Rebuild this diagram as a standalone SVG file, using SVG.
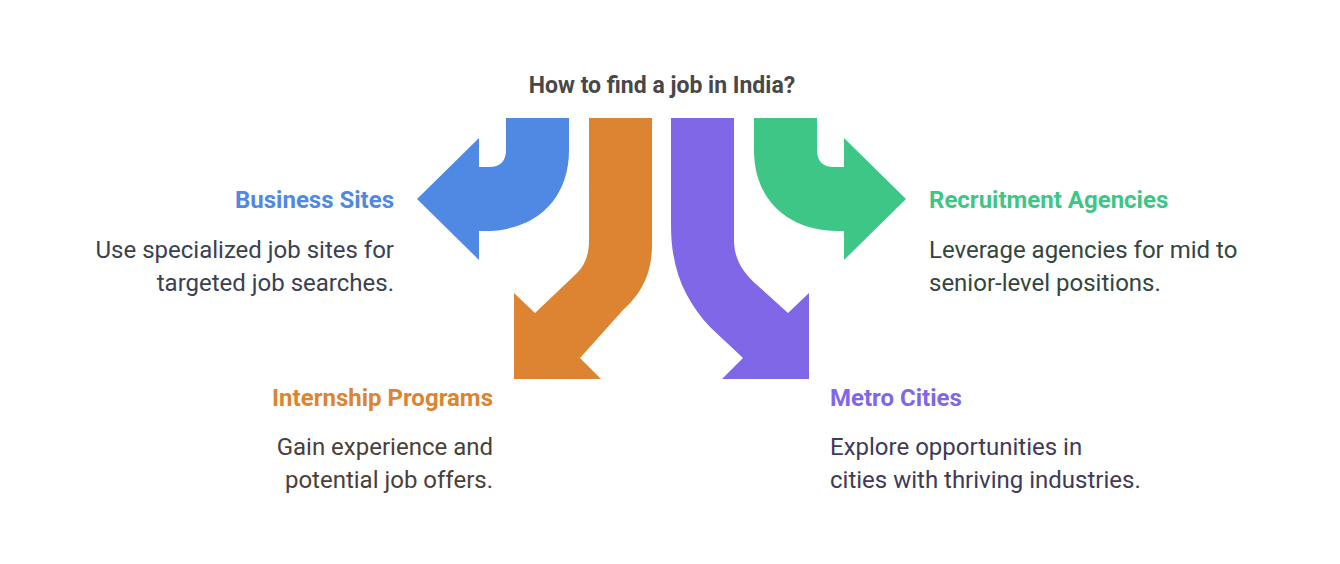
<svg xmlns="http://www.w3.org/2000/svg" width="1340" height="564" viewBox="0 0 1340 564">
<style>
text{font-family:Roboto,"Liberation Sans",sans-serif}
.t{font-size:23px;font-weight:700;fill:#484848}
.h{font-size:24px;font-weight:700}
.b{font-size:24px}
</style>
<rect width="1340" height="564" fill="#fff"/>
<text class="t" x="662" y="93" text-anchor="middle">How to find a job in India?</text>
<g id="connectors">
<path fill="#4F89E4" d="M506,118 L569,118 L569,150 C569,200 535,231 485,231 L479,231 L479,260 L417,199 L479,138 L479,167 L489,167 Q506,167 506,150 Z"/>
<path fill="#3EC686" d="M817,118 L754,118 L754,150 C754,200 788,231 838,231 L844,231 L844,260 L906,199 L844,138 L844,167 L834,167 Q817,167 817,150 Z"/>
<path fill="#DC8431" d="M589,118 L652,118 L652,245 C652,275 640,295 623,310 L580,358 L601,379 L514,379 L514,293 L535,313 L577,273 C585,265 589,255 589,240 Z"/>
<path fill="#7F67E8" d="M671,118 L734,118 L734,240 C734,258 742,272 757,285 L788,313 L809,293 L809,379 L722,379 L743,358 L710,327 C685,300 671,270 671,225 Z"/>
</g>
<g id="business"><text class="h" x="394" y="208" text-anchor="end" fill="#4F89E4">Business Sites</text>
<text class="b" text-anchor="end" fill="#3a4150"><tspan x="394" y="258">Use specialized job sites for</tspan><tspan x="394" y="291">targeted job searches.</tspan></text></g>
<g id="internship"><text class="h" x="493" y="406" text-anchor="end" fill="#DC8431">Internship Programs</text>
<text class="b" text-anchor="end" fill="#4a4038"><tspan x="493" y="455">Gain experience and</tspan><tspan x="493" y="488">potential job offers.</tspan></text></g>
<g id="recruitment"><text class="h" x="929" y="208" fill="#3EC686">Recruitment Agencies</text>
<text class="b" fill="#34453e"><tspan x="929" y="258">Leverage agencies for mid to</tspan><tspan x="929" y="291">senior-level positions.</tspan></text></g>
<g id="metro"><text class="h" x="830" y="406" fill="#7F67E8">Metro Cities</text>
<text class="b" fill="#3e3a58"><tspan x="830" y="455">Explore opportunities in</tspan><tspan x="830" y="488">cities with thriving industries.</tspan></text></g>
</svg>
